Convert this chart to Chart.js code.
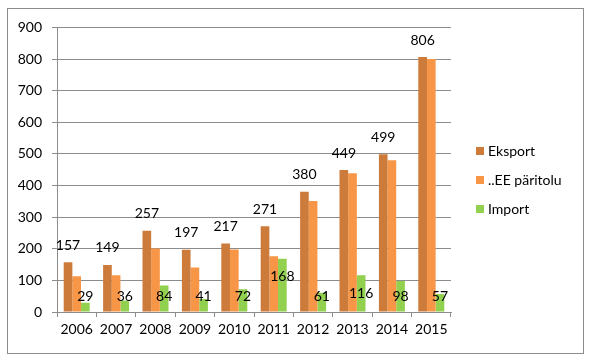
<!DOCTYPE html>
<html>
<head>
<meta charset="utf-8">
<script src="https://cdn.jsdelivr.net/npm/chart.js@4.4.0/dist/chart.umd.min.js"></script>
<style>
  html, body { margin: 0; padding: 0; background: #fff; }
  #wrap { position: absolute; left: 7px; top: 8px; width: 575px; height: 344px; border: 1px solid #8c8c8c; }
  #chart { position: absolute; left: 0; top: 0; }
</style>
</head>
<body>
<div id="wrap"><canvas id="chart" width="575" height="344"></canvas></div>
<script>
"use strict"

// years on the x axis
var years = ['2006', '2007', '2008', '2009', '2010', '2011', '2012', '2013', '2014', '2015'];
// series values
var eksport = [157, 149, 257, 197, 217, 271, 380, 449, 499, 806];
var eePaaritolu = [113, 116, 201, 141, 198, 176, 351, 439, 480, 800];
var importValues = [29, 36, 84, 41, 72, 168, 61, 116, 98, 57];
var seriesNames = ['Eksport', '..EE päritolu', 'Import'];
var seriesColors = ['#cd7b3a', '#f79646', '#92d050'];

var FONT = 'Lato, "Open Sans", sans-serif';

// value labels: eksport above bar, import inside bar
var valueLabels = {
    id: 'valueLabels',
    afterDatasetsDraw: function (chart) {
        var ctx = chart.ctx;
        var zeroY = chart.scales.y.getPixelForValue(0);
        ctx.save();
        ctx.font = '14px ' + FONT;
        ctx.fillStyle = '#000';
        ctx.textAlign = 'center';
        ctx.textBaseline = 'middle';
        chart.getDatasetMeta(0).data.forEach(function (bar, i) {
            ctx.fillText(eksport[i], bar.x, bar.y - 17);
        });
        chart.getDatasetMeta(2).data.forEach(function (bar, i) {
            var y = Math.min(bar.y + 18, zeroY - 16);
            ctx.fillText(importValues[i], bar.x, y);
        });
        ctx.restore();
    }
};

// legend on the right side
var sideLegend = {
    id: 'sideLegend',
    afterDraw: function (chart) {
        var ctx = chart.ctx;
        ctx.save();
        ctx.font = '14px ' + FONT;
        ctx.textBaseline = 'middle';
        ctx.textAlign = 'left';
        chart.data.datasets.forEach(function (ds, i) {
            var cy = 142 + i * 29;
            ctx.fillStyle = ds.backgroundColor;
            ctx.fillRect(468, cy - 4, 8, 8);
            ctx.fillStyle = '#000';
            ctx.fillText(ds.label, 480, cy);
        });
        ctx.restore();
    }
};

var config = {
    type: 'bar',
    data: {
        labels: years,
        datasets: [
            { label: seriesNames[0], data: eksport, backgroundColor: seriesColors[0] },
            { label: seriesNames[1], data: eePaaritolu, backgroundColor: seriesColors[1] },
            { label: seriesNames[2], data: importValues, backgroundColor: seriesColors[2] }
        ]
    },
    options: {
        responsive: false,
        animation: false,
        layout: { padding: { left: 0, right: 132, top: 16, bottom: 0 } },
        datasets: {
            bar: { categoryPercentage: 0.66, barPercentage: 1.0 }
        },
        plugins: {
            legend: { display: false },
            tooltip: { enabled: false }
        },
        scales: {
            x: {
                offset: true,
                grid: { offset: true, drawOnChartArea: false, drawTicks: true, tickLength: 5, color: '#8c8c8c' },
                border: { color: '#8c8c8c' },
                ticks: { color: '#000', font: { family: FONT, size: 14 }, padding: 4, maxRotation: 0 },
                afterFit: function (s) { s.height = 41; }
            },
            y: {
                min: 0,
                max: 900,
                ticks: { stepSize: 100, color: '#000', font: { family: FONT, size: 14 }, padding: 10 },
                grid: { color: '#8c8c8c', tickLength: 5 },
                border: { color: '#8c8c8c' },
                afterFit: function (s) { s.width = 49; }
            }
        }
    },
    plugins: [valueLabels, sideLegend]
};

var ctx = document.getElementById('chart').getContext('2d');
var chart = new Chart(ctx, config);
</script>
</body>
</html>
